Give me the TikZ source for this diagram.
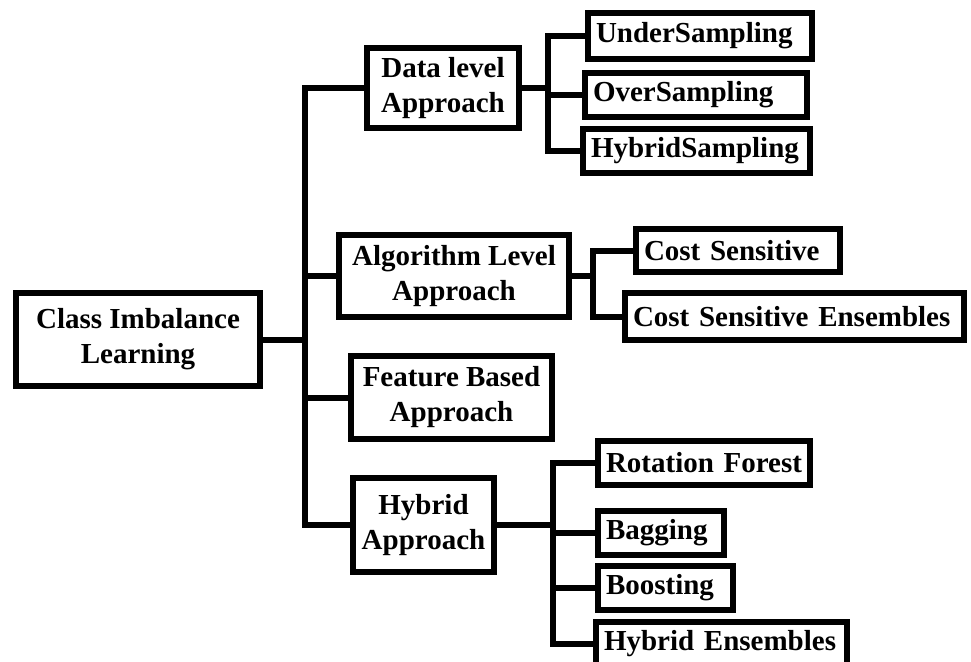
\documentclass[tikz,border=0pt]{standalone}
\usepackage{fontspec}
\setmainfont{Liberation Serif}
\usepackage{tikz}
\tikzset{%
    box/.style={%
        draw, line width=6pt, inner sep=4pt,
        font=\fontsize{29}{35}\selectfont\bfseries, align=center
    },
    leaf/.style={%
        box, text width=#1, align=left, inner xsep=8pt,
        minimum height=44pt
    },
    link/.style={line width=6pt, line join=miter}
}
\begin{document}
\begin{tikzpicture}[x=1pt,y=-1pt]
    \useasboundingbox (0,0) rectangle (971,661);
    \clip (0,0) rectangle (971,661);
    % root and the four approaches
    \node[box, minimum width=244pt, minimum height=93pt] (root) at (138,339.5) {Class Imbalance\\Learning};
    \node[box, minimum width=152pt, minimum height=80pt] (data) at (443,88) {Data level\\Approach};
    \node[box, minimum width=230pt, minimum height=82pt] (algo) at (454,276) {Algorithm Level\\Approach};
    \node[box, minimum width=201pt, minimum height=83pt] (feat) at (451.5,397.5) {Feature Based\\Approach};
    \node[box, minimum width=141pt, minimum height=94pt] (hyba) at (423.5,525) {Hybrid\\Approach};
    % leaves
    \node[leaf=208pt, minimum height=46pt] (under) at (700,36) {UnderSampling};
    \node[leaf=206pt] (over) at (696,95) {OverSampling};
    \node[leaf=211pt] (hybs) at (696.5,151) {HybridSampling};
    \node[leaf=188pt, minimum height=43pt] (cost) at (738,250.5) {Cost Sensitive};
    \node[leaf=323pt, minimum height=47pt] (costens) at (794.5,316.5) {Cost Sensitive~Ensembles};
    \node[leaf=196pt] (rot) at (704,463) {Rotation Forest};
    \node[leaf=110pt] (bag) at (661,533) {Bagging};
    \node[leaf=119pt] (boost) at (665.5,588) {Boosting};
    \node[leaf=235pt] (hybe) at (721.5,644) {Hybrid Ensembles};
    % joints
    \coordinate (jroot) at (305,340);
    \coordinate (jdata) at (548,91);
    \coordinate (jalgo) at (593,277);
    \coordinate (jhyb) at (553,525);
    % connectors
    \draw[link] (root.east) -- (root.east -| jroot);
    \draw[link] (data.west) -| (jroot) |- (hyba.west);
    \draw[link] (algo.west) -- (algo.west -| jroot);
    \draw[link] (feat.west) -- (feat.west -| jroot);
    \draw[link] (data.east) -- (data.east -| jdata);
    \draw[link] (under.west) -| (jdata) |- (hybs.west);
    \draw[link] (over.west) -- (over.west -| jdata);
    \draw[link] (algo.east) -- (algo.east -| jalgo);
    \draw[link] (cost.west) -| (jalgo) |- (costens.west);
    \draw[link] (hyba.east) -- (hyba.east -| jhyb);
    \draw[link] (rot.west) -| (jhyb) |- (hybe.west);
    \draw[link] (bag.west) -- (bag.west -| jhyb);
    \draw[link] (boost.west) -- (boost.west -| jhyb);
\end{tikzpicture}
\end{document}
